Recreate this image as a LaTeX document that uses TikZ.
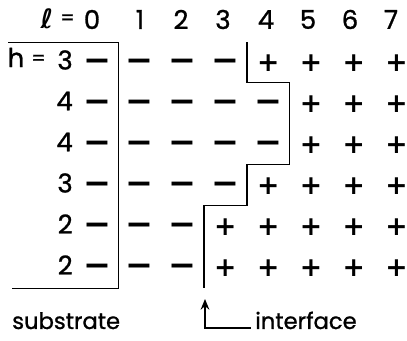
\documentclass[tikz,border=0pt]{standalone}
\usepackage{fontspec}
\setmainfont{Poppins}[FakeBold=1]
\newfontfamily\symf{DejaVu Sans}
\usetikzlibrary{arrows.meta}
\begin{document}
\begin{tikzpicture}[x=0.75pt,y=-0.75pt,
  lab/.style={font=\fontsize{17}{19}\selectfont, inner sep=0pt},
  dig/.style={font=\fontsize{19.5}{21}\selectfont, inner sep=0pt},
  eqs/.style={font=\fontsize{15}{17}\selectfont, inner sep=0pt},
  minus/.style={font=\symf\bfseries\fontsize{25}{28}\selectfont, inner sep=0pt, anchor=base},
  plus/.style={font=\symf\bfseries\fontsize{20}{22}\selectfont, inner sep=0pt, anchor=base},
  rule/.style={line width=1.3pt},
]
\useasboundingbox (0,0) rectangle (407,341);
% header
\node[font=\symf\bfseries\fontsize{20}{23}\selectfont, inner sep=0pt] (ell) at (47,18.5) {ℓ};
\node[eqs] (eq0) at (67.5,19.5) {=};
\foreach \x [count=\l from 0] in {92,140,181,223,266,308,350,391} {
  \node[dig] (l\l) at (\x,19.5) {\l};
}
% row labels and signs
\node[dig] (hh) at (16,57.5) {h};
\node[eqs] (eq1) at (38.5,60) {=};
\foreach \h [count=\i from 0] in {3,4,4,3,2,2} {
  \pgfmathsetmacro\cy{61.5+41*\i}
  \node[dig, anchor=east] (h\i) at (73,\cy-1.5) {\h};
  \foreach \l in {0,...,7} {
    \pgfmathsetmacro\cx{97+42.8*\l}
    \ifnum\l>\h
      \node[plus] (s\i\l) at (\cx,{\cy+10.3}) {+};
    \else
      \node[minus] (s\i\l) at (\cx,{\cy+10.4}) {−};
    \fi
  }
}
% substrate box
\draw[rule] (8,42.5) -- (118.4,42.5) -- (118.4,288.5) -- (12,288.5);
% interface line
\draw[rule] (246.8,42.5) -- (246.8,82.5) -- (289.6,82.5) -- (289.6,164.5)
  -- (246.8,164.5) -- (246.8,205.5) -- (204,205.5) -- (204,288.5);
% labels
\node[lab, anchor=base west] (sub) at (12,329) {substrate};
\node[lab, anchor=base west] (int) at (255,329) {interface};
\coordinate (tip) at (205,299);
\draw[rule, -{Stealth[length=8pt,width=6.5pt]}] ([xshift=-3pt,yshift=1pt]int.base west) -| (tip);
\end{tikzpicture}
\end{document}
